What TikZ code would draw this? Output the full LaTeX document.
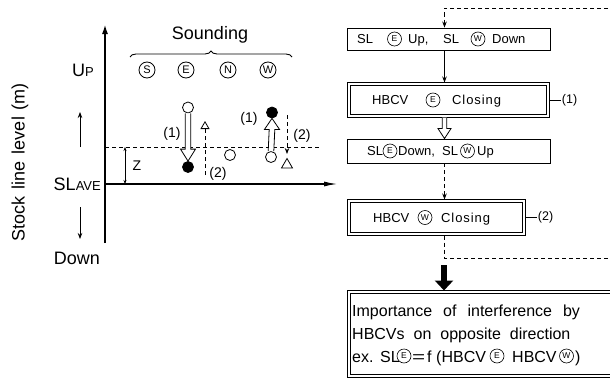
\documentclass[tikz,border=0pt]{standalone}
\usepackage{fontspec}
\usepackage{graphicx}
\setmainfont{Liberation Sans}
\usetikzlibrary{arrows.meta,decorations.pathreplacing,calc}

\newcommand{\spaced}[1]{{\addfontfeature{LetterSpace=7}#1}}

\newcommand{\hollowarrow}[5]{%
  \draw[hol] ($(#1)+(-#3,0)$) -- ($(#2)+(-#3,#5)$) -- ($(#2)+(-#4,#5)$) -- (#2)
    -- ($(#2)+(#4,#5)$) -- ($(#2)+(#3,#5)$) -- ($(#1)+(#3,0)$);}

\begin{document}
\begin{tikzpicture}[x=1pt,y=-1pt,
  big/.style={inner sep=0pt,font=\fontsize{18}{20}\selectfont},
  mid/.style={inner sep=0pt,font=\fontsize{14}{16}\selectfont},
  sml/.style={inner sep=0pt,font=\fontsize{12.5}{14}\selectfont},
  t13/.style={inner sep=0pt,anchor=base west,font=\fontsize{13}{15}\selectfont},
  t16/.style={inner sep=0pt,anchor=base west,font=\fontsize{16}{18}\selectfont},
  cir/.style={circle,draw,line width=0.6pt,inner sep=0pt,minimum size=14pt,font=\fontsize{8.5}{9}\selectfont},
  bx/.style={draw,line width=0.9pt,inner sep=0pt},
  obx/.style={draw,line width=1pt,inner sep=0pt,outer sep=0pt},
  ibx/.style={draw,line width=0.7pt,inner sep=0pt,outer sep=0pt},
  oc/.style={circle,draw,fill=white,line width=0.8pt,minimum size=11pt,inner sep=0pt},
  fc/.style={oc,fill=black},
  dirc/.style={circle,draw,line width=0.8pt,minimum size=16pt,inner sep=0pt,font=\fontsize{11}{11}\selectfont},
  dsh/.style={dash pattern=on 4pt off 3pt,line width=0.8pt},
  hol/.style={draw,fill=white,line width=0.8pt,line join=miter},
  ax/.style={line width=1.1pt},
  sarr/.style={line width=0.8pt,-{Stealth[length=6pt,width=4.5pt]}},
  ln/.style={line width=0.8pt}
]
\useasboundingbox (0,0) rectangle (610,380);
\clip (0,0) rectangle (610,380);
\fill[white] (0,0) rectangle (610,380);

% ---------- left panel ----------
\coordinate (O) at (105,184);
\coordinate (Ytop) at (105,25);
\coordinate (Ybot) at (105,243);
\coordinate (Xend) at (337,184);
\draw[ax,-{Latex[length=9pt,width=6pt]}] (Ybot) -- (Ytop);
\draw[ax,-{Latex[length=13pt,width=5pt]}] (O) -- (Xend);

\coordinate (Dl) at (105,147);
\coordinate (Dr) at (320,147);
\draw[dsh] (Dl) -- (Dr);

\coordinate (Za) at (125,147);
\coordinate (Zb) at (125,184);
\draw[line width=0.6pt,{Stealth[length=4pt,width=3pt]}-{Stealth[length=4pt,width=3pt]}] (Za) -- (Zb);
\node[mid] (zlab) at (137,166) {Z};

\node[big] (uplab) at (83,70) {U{\fontsize{13}{13}\selectfont P}};
\coordinate (ua1) at (80,147);
\coordinate (ua2) at (80,112);
\draw[sarr] (ua1) -- (ua2);
\node[big,anchor=east] (slave) at (101,184) {SL{\fontsize{13}{13}\selectfont AVE}};
\coordinate (da1) at (80,207);
\coordinate (da2) at (80,239);
\draw[sarr] (da1) -- (da2);
\node[big] (downlab) at (77,258) {Down};
\node[big,rotate=90] (ylab) at (20,162) {Stock\hspace{7pt}line\hspace{7pt}level\hspace{7pt}(m)};

\node[big] (snd) at (210,35) {Sounding};
\coordinate (brl) at (130,57);
\coordinate (brr) at (292,57);
\draw[line width=0.9pt,decorate,decoration={brace,amplitude=6pt}] (brl) -- (brr);

\node[dirc] (dS) at (147,70) {S};
\node[dirc] (dE) at (186,70) {E};
\node[dirc] (dN) at (228,70) {N};
\node[dirc] (dW) at (268,70) {W};

% E column
\node[oc] (e1) at (188,107.5) {};
\node[fc] (e2) at (188,167) {};
\hollowarrow{e1.south}{e2.north}{2.8}{7.5}{-12}
\node[mid] (e1lab) at (172,134) {(1)};
\coordinate (et0) at (205,175);
\coordinate (et1) at (205,121);
\draw[dsh,-{Triangle[open,length=8pt,width=9pt,line width=0.8pt]}] (et0) -- (et1);
\node[mid] (e2lab) at (218,174) {(2)};

% N
\node[oc] (n1) at (230,155) {};

% W column
\node[oc] (w1) at (271,157) {};
\node[fc] (w2) at (272,112.5) {};
\hollowarrow{w1.north}{w2.south}{2.8}{7.5}{11}
\node[mid] (w1lab) at (249,119) {(1)};
\coordinate (wt0) at (287,115);
\coordinate (wt1) at (287,154);
\draw[dsh,-{Stealth[length=6pt,width=4.5pt]}] (wt0) -- (wt1);
\draw[ln,line join=miter] (287,158.5) -- (281.5,168) -- (292.5,168) -- cycle;
\node[mid] (w2lab) at (302,136) {(2)};

% ---------- right panel ----------
\coordinate (col) at (444.5,0);
% box 1
\node[bx,minimum width=203pt,minimum height=22pt] (b1) at (448.5,39) {};
\node[t13] (b1a) at (357,43.65) {SL};
\node[cir] (b1b) at (394.5,39) {E};
\node[t13] (b1c) at (408,43.65) {Up,};
\node[t13] (b1d) at (443,43.65) {SL};
\node[cir] (b1e) at (478,39) {W};
\node[t13] (b1f) at (492,43.65) {Down};
% box 2
\node[obx,minimum width=202pt,minimum height=35pt] (b2) at (448.5,100) {};
\node[ibx,minimum width=196pt,minimum height=29pt] (b2i) at (b2.center) {};
\node[t13] (b2a) at (372,104.65) {HBCV};
\node[cir] (b2b) at (433,100) {E};
\node[t13] (b2c) at (452,104.65) {\spaced{Closing}};
% box 3
\node[bx,minimum width=203pt,minimum height=24pt] (b3) at (448.5,151) {};
\node[t13] (b3a) at (367,155.65) {SL};
\node[cir] (b3b) at (390,151) {E};
\node[t13] (b3c) at (398,155.65) {Down,};
\node[t13] (b3d) at (442,155.65) {SL};
\node[cir] (b3e) at (467.5,151) {W};
\node[t13] (b3f) at (477,155.65) {Up};
% box 4
\node[obx,minimum width=178pt,minimum height=36pt] (b4) at (436.5,217.5) {};
\node[ibx,minimum width=172pt,minimum height=30pt] (b4i) at (b4.center) {};
\node[t13] (b4a) at (373,222.15) {HBCV};
\node[cir] (b4b) at (425,217.5) {W};
\node[t13] (b4c) at (441,222.15) {\spaced{Closing}};
% box 5
\node[obx,anchor=north west,minimum width=320pt,minimum height=87pt] (b5) at (347.5,290.5) {};
\node[ibx,anchor=north west,minimum width=314pt,minimum height=81pt] (b5i) at (350.5,293.5) {};
\node[t16] (b5a) at (352,316) {Importance\hspace{11pt}of\hspace{11pt}interference\hspace{11pt}by};
\node[t16] (b5b) at (352,339) {HBCVs\hspace{9pt}on\hspace{9pt}opposite\hspace{9pt}direction};
\node[t16] (b5c) at (352,362) {ex.};
\node[t16] (b5d) at (380,362) {SL};
\node[cir] (b5e) at (404,356) {E};
\node[t16] (b5f) at (412,362) {\scalebox{1.4}[1]{=}};
\node[t16] (b5g) at (427,362) {f};
\node[t16] (b5h) at (436,362) {(HBCV};
\node[cir] (b5i) at (497,356) {E};
\node[t16] (b5j) at (512,362) {HBCV};
\node[cir] (b5k) at (566.5,356) {W};
\node[t16] (b5l) at (575,362) {)};

% connectors
\coordinate (tr) at (615,8);
\draw[dsh,-{Stealth[length=6pt,width=4.5pt]}] (tr) -| (b1.north -| col);
\draw[ln,-{Stealth[length=6pt,width=4.5pt]}] (b1.south -| col) -- (b2.north -| col);
\draw[ln] (b2.east) -- ++(11,0) node[sml,anchor=west,xshift=1pt] (l1) {(1)};
\coordinate (h0) at (b2.south -| col);
\coordinate (h1) at (b3.north -| col);
\hollowarrow{h0}{h1}{2.3}{6.5}{-10}
\draw[dsh,-{Stealth[length=6pt,width=4.5pt]}] (b3.south -| col) -- (b4.north -| col);
\draw[ln] (b4.east) -- ++(11,0) node[sml,anchor=west,xshift=1pt] (l2) {(2)};
\coordinate (br) at (615,258);
\draw[dsh] (b4.south -| col) |- (br);
\coordinate (ta) at (444,265);
\draw[line width=6pt,-{Triangle[length=10pt,width=18pt]}] (ta) -- (b5.north -| ta);
\end{tikzpicture}
\end{document}
